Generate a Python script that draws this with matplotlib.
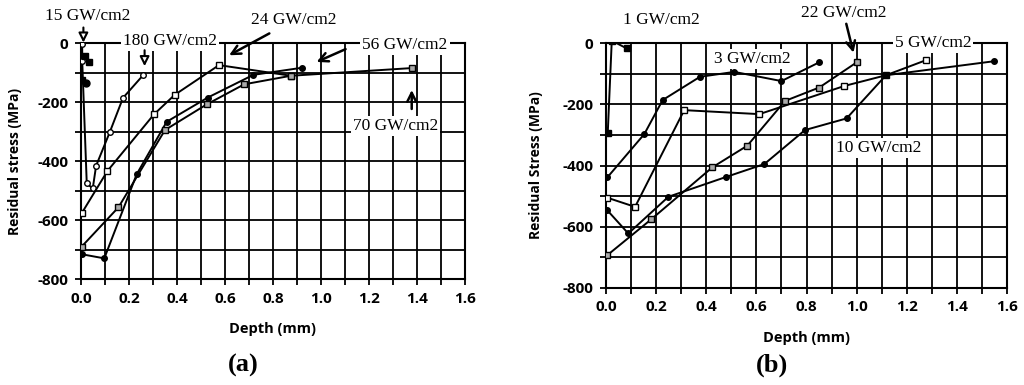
import matplotlib
matplotlib.use('Agg')
import matplotlib.pyplot as plt
import numpy as np

plt.rcParams['axes.unicode_minus'] = False

SANS = ['Open Sans', 'DejaVu Sans']
SERIF = ['Liberation Serif', 'DejaVu Serif']

# ---- panel (a) data: depth (mm), residual stress (MPa)
a_180_x = [0.005, 0.005, 0.024, 0.049, 0.063, 0.12, 0.175, 0.26]
a_180_y = [-3, -60, -476, -493, -416, -302, -186, -108]
a_15_x = [0.005, 0.015, 0.035]
a_15_y = [-125, -45, -65]
a_15c_x = [0.02]
a_15c_y = [-135]
a_24_x = [0.003, 0.11, 0.304, 0.39, 0.575, 0.875]
a_24_y = [-577, -434, -242, -176, -75, -111]
a_56_x = [0.003, 0.097, 0.232, 0.357, 0.528, 0.718, 0.92]
a_56_y = [-716, -730, -445, -267, -185, -108, -84]
a_70_x = [0.003, 0.156, 0.35, 0.524, 0.68, 0.875, 1.378]
a_70_y = [-690, -557, -295, -208, -140, -111, -85]

# ---- panel (b) data
b_1_x = [0.007, 0.023, 0.082]
b_1_y = [-293, 8, -17]
b_3_x = [0.005, 0.153, 0.226, 0.375, 0.512, 0.70, 0.85]
b_3_y = [-439, -297, -186, -110, -94, -124, -63]
b_5_x = [0.005, 0.116, 0.312, 0.612, 0.951, 1.117, 1.276]
b_5_y = [-505, -535, -219, -232, -140, -105, -56]
b_22_x = [0.005, 0.18, 0.424, 0.564, 0.714, 0.851, 1.0]
b_22_y = [-693, -576, -406, -335, -189, -145, -63]
b_10_x = [0.005, 0.089, 0.249, 0.48, 0.632, 0.794, 0.96, 1.117, 1.55]
b_10_y = [-546, -622, -502, -437, -395, -284, -246, -105, -59]

LINE = dict(color='black', lw=1.4)


def setup_axes(ax, ylabel, ypad):
    ax.set_xlim(0, 1.6)
    ax.set_ylim(-800, 0)
    ax.set_xticks(np.arange(0, 1.61, 0.2))
    ax.set_xticks(np.arange(0, 1.61, 0.1), minor=True)
    ax.set_yticks(np.arange(-800, 1, 200))
    ax.set_yticks(np.arange(-800, 1, 100), minor=True)
    ax.grid(True, which='both', color='black', lw=1.3)
    ax.tick_params(which='both', direction='out', length=4, width=1.3, color='black', pad=5)
    ax.set_xticklabels(['%.1f' % v for v in np.arange(0, 1.61, 0.2)])
    ax.set_yticklabels(['%d' % v for v in np.arange(-800, 1, 200)])
    for lab in ax.get_xticklabels() + ax.get_yticklabels():
        lab.set_family(SANS)
        lab.set_fontweight('bold')
        lab.set_fontsize(11)
    for s in ax.spines.values():
        s.set_linewidth(1.5)
    ax.set_xlabel('Depth (mm)', family=SANS, fontweight='bold', fontsize=10.5, labelpad=12)
    ax.set_ylabel(ylabel, family=SANS, fontweight='bold', fontsize=10, labelpad=ypad)


def label(ax, x, y, s):
    ax.text(x, y, s, family=SERIF, fontsize=12.5, ha='center', va='center', zorder=10,
            bbox=dict(facecolor='white', edgecolor='none', pad=1.5), clip_on=False)


def arrow(ax, start, end, hollow=False):
    if hollow:
        props = dict(arrowstyle='-|>', fc='white', ec='black', lw=1.5, mutation_scale=14)
    else:
        props = dict(arrowstyle='->', color='black', lw=1.8, mutation_scale=16)
    ax.annotate('', xy=end, xytext=start, zorder=11, annotation_clip=False, arrowprops=props)


fig = plt.figure(figsize=(10.24, 3.85), dpi=100)
ax1 = fig.add_axes([0.0791, 0.2753, 0.375, 0.613])
ax2 = fig.add_axes([0.5918, 0.252, 0.3916, 0.636])

# panel (a)
ax1.plot(a_180_x, a_180_y, marker='o', ms=4, mfc='white', mec='black', **LINE, zorder=3)
ax1.plot(a_15_x, a_15_y, marker='s', ms=5, mfc='black', mec='black', ls='none', zorder=3)
ax1.plot(a_15c_x, a_15c_y, marker='o', ms=5, mfc='black', mec='black', ls='none', zorder=3)
ax1.plot(a_24_x, a_24_y, marker='s', ms=5, mfc='white', mec='black', **LINE, zorder=3)
ax1.plot(a_56_x, a_56_y, marker='o', ms=4, mfc='black', mec='black', **LINE, zorder=3)
ax1.plot(a_70_x, a_70_y, marker='s', ms=5, mfc='#aaaaaa', mec='black', **LINE, zorder=3)
setup_axes(ax1, 'Residual stress (MPa)', 11)

label(ax1, 0.029, 92, '15 GW/cm2')
arrow(ax1, (0.01, 62), (0.01, -8), hollow=True)
label(ax1, 0.371, 6, '180 GW/cm2')
arrow(ax1, (0.265, -15), (0.265, -88), hollow=True)
label(ax1, 0.885, 78, '24 GW/cm2')
arrow(ax1, (0.795, 37), (0.607, -46))
label(ax1, 1.35, -7, '56 GW/cm2')
arrow(ax1, (1.113, -17), (0.971, -68))
label(ax1, 1.31, -281, '70 GW/cm2')
arrow(ax1, (1.378, -233), (1.378, -150))

# panel (b)
ax2.plot(b_1_x, b_1_y, marker='s', ms=5, mfc='black', mec='black', **LINE, zorder=3)
ax2.plot(b_3_x, b_3_y, marker='o', ms=4, mfc='black', mec='black', **LINE, zorder=3)
ax2.plot(b_5_x, b_5_y, marker='s', ms=5, mfc='white', mec='black', **LINE, zorder=3)
ax2.plot(b_22_x, b_22_y, marker='s', ms=5, mfc='#aaaaaa', mec='black', **LINE, zorder=3)
ax2.plot(b_10_x, b_10_y, marker='o', ms=4, mfc='black', mec='black', **LINE, zorder=3)
setup_axes(ax2, 'Residual Stress (MPa)', 14)

label(ax2, 0.22, 75, '1 GW/cm2')
label(ax2, 0.583, -52, '3 GW/cm2')
label(ax2, 0.95, 98, '22 GW/cm2')
arrow(ax2, (0.956, 72), (0.99, -40))
label(ax2, 1.305, 0, '5 GW/cm2')
label(ax2, 1.09, -343, '10 GW/cm2')

fig.text(0.2373, 0.05, '(a)', family=SERIF, fontsize=19, fontweight='bold', ha='center', va='center')
fig.text(0.754, 0.05, '(b)', family=SERIF, fontsize=19, fontweight='bold', ha='center', va='center')

fig.savefig('out.png', dpi=100, facecolor='white')
